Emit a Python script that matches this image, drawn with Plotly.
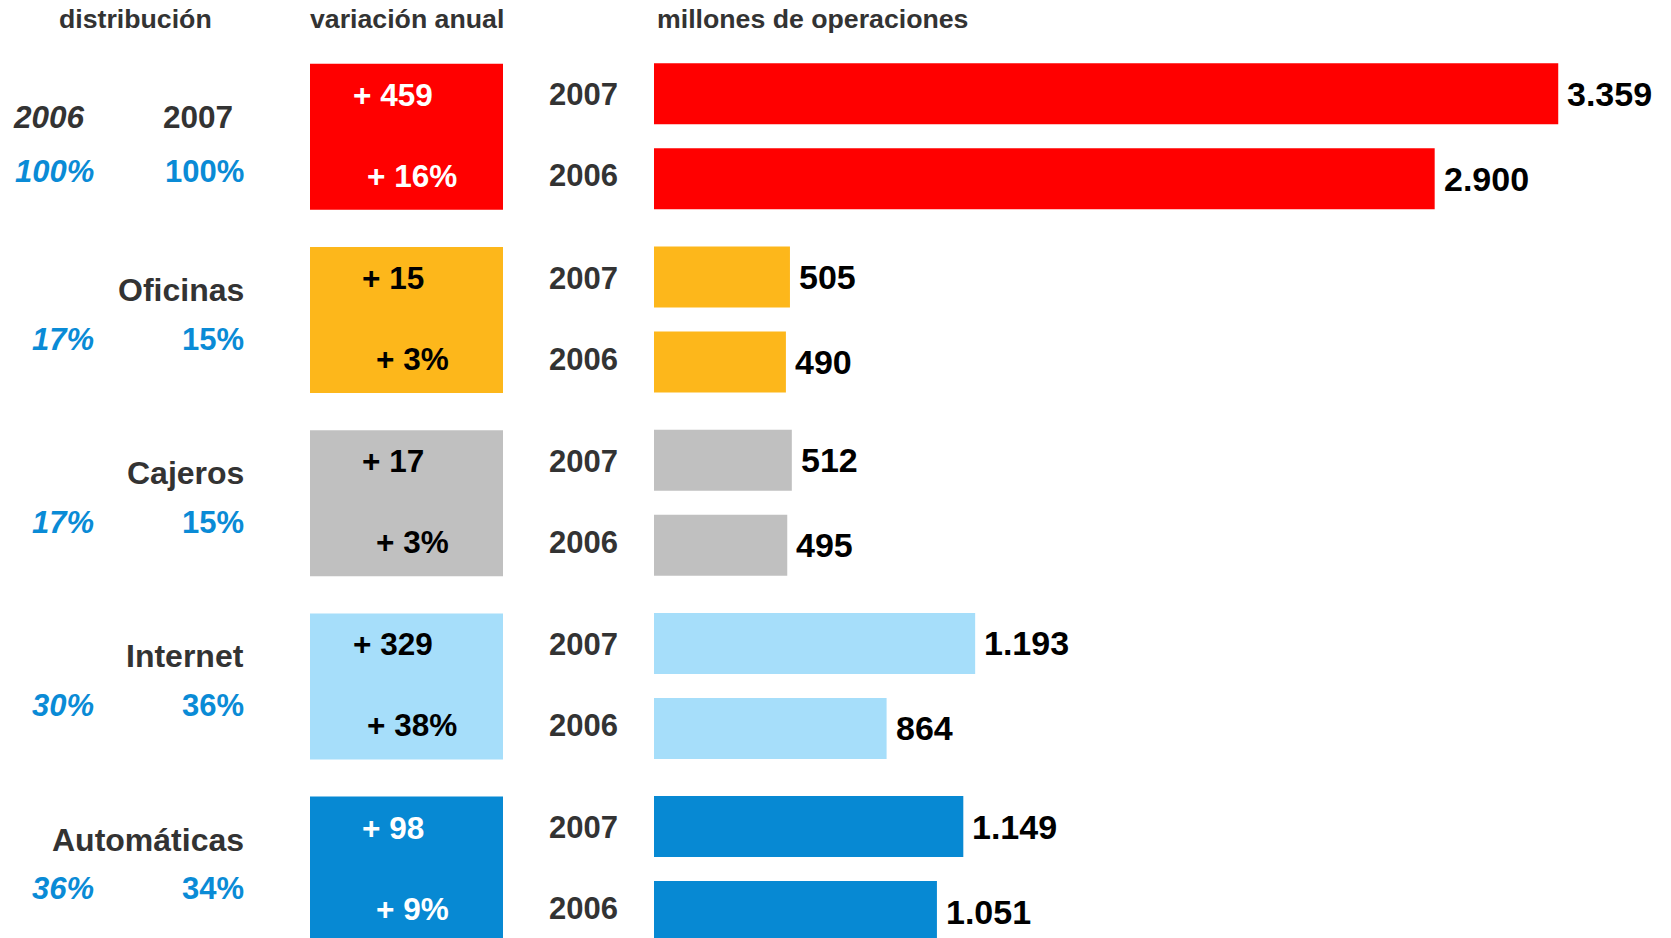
import plotly.graph_objects as go

# ---------------- data ----------------
categories = ["Total", "Oficinas", "Cajeros", "Internet", "Automáticas"]
years = ["2006", "2007"]
ops_2007 = [3359, 505, 512, 1193, 1149]
ops_2006 = [2900, 490, 495, 864, 1051]
headers = ["distribución", "variación anual", "millones de operaciones"]

# ---------------- styles ----------------
colors = ["#FF0000", "#FDB71B", "#C0C0C0", "#A6DEFA", "#0789D3"]
box_text_colors = ["#FFFFFF", "#000000", "#000000", "#000000", "#FFFFFF"]
FONT = "Liberation Sans, Arial, sans-serif"
GREY = "#333333"
PCT_BLUE = "#0A8BD6"
W, H = 1671, 938

# layout (y axis expressed in pixel units, top = 0)
Y0, GROUP_STEP, ROW_STEP = 93.8, 183.2, 85
BAR_H, BOX_H = 61, 146
PX_PER_UNIT = 0.2692
BAR_LEFT = 654
BOX_L, BOX_R = 310, 503


def fmt(v):
    return f"{v:,}".replace(",", ".")


n = len(categories)
y07 = [Y0 + i * GROUP_STEP for i in range(n)]
y06 = [y + ROW_STEP for y in y07]
ymid = [(a + b) / 2 + 0.5 for a, b in zip(y07, y06)]

fig = go.Figure()
fig.add_trace(go.Bar(
    orientation="h", x=ops_2007 + ops_2006, y=y07 + y06, width=BAR_H,
    marker=dict(color=colors + colors, line_width=0),
    xaxis="x", yaxis="y", hoverinfo="skip", showlegend=False))
fig.add_trace(go.Bar(
    orientation="h", x=[1] * n, base=0, y=ymid, width=BOX_H,
    marker=dict(color=colors, line_width=0),
    xaxis="x2", yaxis="y", hoverinfo="skip", showlegend=False))

ann = []


def txt(text, x, y, size, color, xref="paper", xanchor="center", italic=False, xshift=0):
    ann.append(dict(
        text=text, x=x, y=y, xref=xref, yref="y", xanchor=xanchor, yanchor="middle",
        showarrow=False, xshift=xshift,
        font=dict(family=FONT, size=size, color=color, weight="bold",
                  style="italic" if italic else "normal")))


# headers
txt(headers[0], 135 / W, 19, 26.7, GREY)
txt(headers[1], ((BOX_L + BOX_R) / 2) / W, 19, 26.7, GREY)
txt(headers[2], (BAR_LEFT + 1) / W, 19, 26.7, GREY, xanchor="left")

tot07, tot06 = ops_2007[0], ops_2006[0]
for i in range(n):
    a, b = ops_2007[i], ops_2006[i]
    # variation box texts
    txt(f"+ {a - b}", (393 - BOX_L) / (BOX_R - BOX_L), y07[i] + 1, 31.5, box_text_colors[i], xref="x2")
    txt(f"+ {round(100 * (a - b) / b)}%", (412 - BOX_L) / (BOX_R - BOX_L), y06[i] - 3, 31.5,
        box_text_colors[i], xref="x2")
    # year labels
    txt(years[1], 620 / W, y07[i] + 1, 31, GREY, xanchor="right")
    txt(years[0], 620 / W, y06[i] - 3, 31, GREY, xanchor="right")
    # values
    txt(fmt(a), a, y07[i], 34, "#000000", xref="x", xanchor="left", xshift=7)
    txt(fmt(b), b, y06[i], 34, "#000000", xref="x", xanchor="left", xshift=7)
    # distribution
    if i == 0:
        txt(years[0], 49 / W, y07[i] + 23, 31.5, GREY, italic=True)
        txt(years[1], 198 / W, y07[i] + 23, 31.5, GREY)
        pct_y = y07[i] + 78
    else:
        txt(categories[i], 246 / W, ymid[i] - 30, 32, GREY, xanchor="right")
        pct_y = ymid[i] + 19
    txt(f"{round(100 * b / tot06)}%", 96 / W, pct_y, 31, PCT_BLUE, xanchor="right", italic=True)
    txt(f"{round(100 * a / tot07)}%", 246 / W, pct_y, 31, PCT_BLUE, xanchor="right")

fig.update_layout(
    width=W, height=H, margin=dict(l=0, r=0, t=0, b=0),
    paper_bgcolor="white", plot_bgcolor="white",
    barmode="overlay", showlegend=False,
    xaxis=dict(domain=[BAR_LEFT / W, 1], range=[0, (W - BAR_LEFT) / PX_PER_UNIT],
               visible=False, fixedrange=True),
    xaxis2=dict(domain=[BOX_L / W, BOX_R / W], range=[0, 1], anchor="y",
                visible=False, fixedrange=True),
    yaxis=dict(domain=[0, 1], range=[H, 0], visible=False, fixedrange=True),
    annotations=ann,
)

fig.write_html(
    "out.html",
    config={"displayModeBar": False},
    post_script="document.body.style.margin='0';document.body.style.overflow='hidden';",
)
